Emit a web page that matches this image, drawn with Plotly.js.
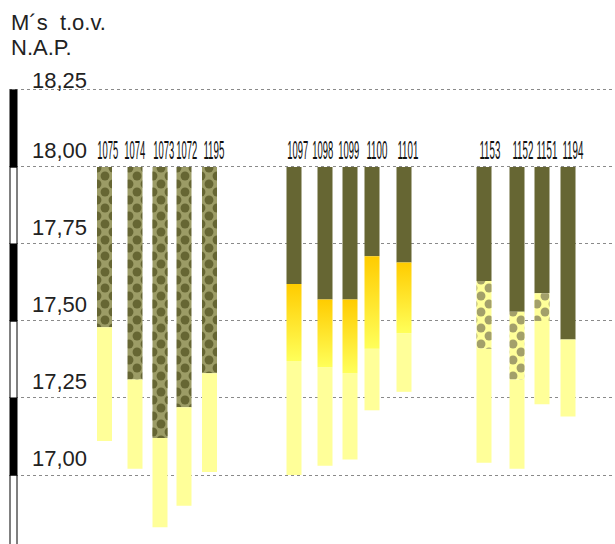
<!DOCTYPE html>
<html>
<head>
<meta charset="utf-8">
<script src="https://cdn.plot.ly/plotly-3.0.1.min.js"></script>
<style>
  html, body { margin: 0; padding: 0; background: #ffffff; }
  #chart { width: 615px; height: 544px; }
</style>
</head>
<body>
<div id="chart"></div>
<script>
// ---- data ----
const boreholes = ['1075','1074','1073','1072','1195','1097','1098','1099','1100','1101','1153','1152','1151','1194'];
const profileX  = [104.5, 135, 160, 184, 209.5, 294, 325, 350, 372, 404, 484, 517, 542, 568];
const surfaceLevel = [18.00,18.00,18.00,18.00,18.00,18.00,18.00,18.00,18.00,18.00,18.00,18.00,18.00,18.00];
const oliveDottedBottom  = [17.48,17.31,17.12,17.22,17.33, null,null,null,null,null, null,null,null,null];
const oliveBottom        = [null,null,null,null,null, 17.62,17.57,17.57,17.71,17.69, 17.63,17.53,17.59,17.44];
const goldBottom         = [null,null,null,null,null, 17.37,17.35,17.33,17.41,17.46, null,null,null,null];
const yellowDottedBottom = [null,null,null,null,null, null,null,null,null,null, 17.41,17.31,17.50,null];
const paleBottom         = [17.11,17.02,16.83,16.90,17.01, 17.00,17.03,17.05,17.21,17.27, 17.04,17.02,17.23,17.19];
const tickVals  = [16.75, 17.00, 17.25, 17.50, 17.75, 18.00, 18.25];
const tickText  = ['16,75','17,00','17,25','17,50','17,75','18,00','18,25'];
const titleLines = ['M\u00B4s  t.o.v.', 'N.A.P.'];

// ---- layout / styles ----
const labelShift = [3.5, 0, 4, 3, 4.5, 4, -2, -1.5, 5, 4, 5.5, 6, 4.5, 5];
const W = 615, H = 544, ML = 9;
const X_RANGE = [9, 615], Y_RANGE = [16.776, 18.542];
const PX_PER_M = H / (Y_RANGE[1] - Y_RANGE[0]);
const TILE = 16, HALF = TILE / 2;   // dot pattern tile; second subplot offset by half a tile -> staggered dots
const BAR_W = 15;
const C_OLIVE = '#666633';
const C_OLIVE_LIGHT = '#9c9c66';
const C_PALE = '#ffff99';
const C_DOT_ON_PALE = '#a3a06a';
const CLEAR = 'rgba(0,0,0,0)';

function layerBar(top, bottom, marker, axes) {
  const x = [], base = [], h = [];
  for (let i = 0; i < boreholes.length; i++) {
    if (bottom[i] == null || top[i] == null) continue;
    x.push(profileX[i]); base.push(bottom[i]); h.push(top[i] - bottom[i]);
  }
  const tr = { type: 'bar', x: x, y: h, base: base, width: BAR_W, marker: marker,
               hoverinfo: 'skip', showlegend: false };
  if (axes) { tr.xaxis = 'x2'; tr.yaxis = 'y2'; }
  return tr;
}
function dots(bg, fg) {
  return { color: bg, line: { width: 0 },
    pattern: { shape: '.', bgcolor: bg, fgcolor: fg, size: TILE, solidity: 0.24, fillmode: 'replace' } };
}

// top of the pale layer = bottom of whatever layer is above it
const paleTop = boreholes.map((_, i) =>
  oliveDottedBottom[i] ?? goldBottom[i] ?? yellowDottedBottom[i] ?? oliveBottom[i]);

const traces = [];
traces.push(layerBar(surfaceLevel, oliveDottedBottom, dots(C_OLIVE_LIGHT, C_OLIVE)));
traces.push(layerBar(surfaceLevel, oliveBottom, { color: C_OLIVE, line: { width: 0 } }));
traces.push(layerBar(oliveBottom, yellowDottedBottom, dots(C_PALE, C_DOT_ON_PALE)));
traces.push(layerBar(paleTop, paleBottom, { color: C_PALE, line: { width: 0 } }));
// staggered second row of dots (same bars, drawn in a subplot shifted by half a pattern tile)
traces.push(layerBar(surfaceLevel, oliveDottedBottom, dots(CLEAR, C_OLIVE), true));
traces.push(layerBar(oliveBottom, yellowDottedBottom, dots(CLEAR, C_DOT_ON_PALE), true));

// gradient layer as filled rectangles
for (let i = 0; i < boreholes.length; i++) {
  if (goldBottom[i] == null) continue;
  const c = profileX[i], t = oliveBottom[i], b = goldBottom[i];
  traces.push({
    type: 'scatter', mode: 'lines',
    x: [c - BAR_W / 2, c + BAR_W / 2, c + BAR_W / 2, c - BAR_W / 2, c - BAR_W / 2],
    y: [t, t, b, b, t],
    fill: 'toself', line: { width: 0 },
    fillgradient: { type: 'vertical', colorscale: [[0, '#ffff5a'], [1, '#ffcc00']] },
    hoverinfo: 'skip', showlegend: false
  });
}

const FONT_MAIN = 'Liberation Sans, Arial, sans-serif';
const annotations = [];
tickVals.forEach((v, i) => {
  annotations.push({
    xref: 'x', yref: 'y', x: 30, y: v, xanchor: 'left', yanchor: 'bottom',
    text: tickText[i], showarrow: false,
    yshift: (i === tickVals.length - 1) ? -5 : 2,
    font: { family: FONT_MAIN, size: 22, color: '#222222' }
  });
});
boreholes.forEach((name, i) => {
  annotations.push({
    xref: 'x', yref: 'y', x: profileX[i], y: surfaceLevel[i], xanchor: 'center', yanchor: 'bottom',
    xshift: labelShift[i], yshift: 1, text: name, showarrow: false,
    font: { family: FONT_MAIN, size: 25, color: '#111111' }
  });
});
titleLines.forEach((t, i) => {
  annotations.push({
    xref: 'paper', yref: 'paper', x: 0, y: 1, xanchor: 'left', yanchor: 'top',
    yshift: -8 - i * 25, text: t, showarrow: false,
    font: { family: FONT_MAIN, size: 22, color: '#222222' }
  });
});

// alternating black/white scale bar on the left
const shapes = [];
for (let i = 0; i < tickVals.length - 1; i++) {
  shapes.push({
    type: 'rect', xref: 'x', yref: 'y', x0: 10, x1: 17,
    y0: tickVals[i], y1: tickVals[i + 1],
    fillcolor: (i % 2 === 1) ? '#000000' : '#ffffff',
    line: { color: '#000000', width: 1 }, layer: 'above'
  });
}

const plotW = W - ML;
const layout = {
  width: W, height: H,
  margin: { l: ML, r: 0, t: 0, b: 0 },
  paper_bgcolor: '#ffffff', plot_bgcolor: CLEAR,
  barmode: 'overlay',
  showlegend: false,
  xaxis: { domain: [0, 1], range: X_RANGE, visible: false, fixedrange: true },
  yaxis: {
    domain: [0, 1], range: Y_RANGE, tickvals: tickVals, showticklabels: false,
    showgrid: true, gridcolor: '#8a8a8a', gridwidth: 1, griddash: 'dot',
    zeroline: false, showline: false, ticks: '', fixedrange: true
  },
  xaxis2: { domain: [HALF / plotW, 1], range: [X_RANGE[0] + HALF, X_RANGE[1]], anchor: 'y2',
            visible: false, fixedrange: true },
  yaxis2: { domain: [0, 1 - HALF / H], range: [Y_RANGE[0], Y_RANGE[1] - HALF / PX_PER_M], anchor: 'x2',
            visible: false, showgrid: false, fixedrange: true },
  annotations: annotations,
  shapes: shapes
};

Plotly.newPlot('chart', traces, layout, { staticPlot: true, displayModeBar: false }).then(gd => {
  gd.querySelectorAll('text.annotation-text').forEach(t => {
    if (boreholes.indexOf(t.textContent.trim()) >= 0) {
      const bb = t.getBBox();
      const cx = bb.x + bb.width / 2;
      const sx = 21 / bb.width;
      t.setAttribute('transform', `translate(${cx},0) scale(${sx},1) translate(${-cx},0)`);
    }
  });
});
</script>
</body>
</html>
